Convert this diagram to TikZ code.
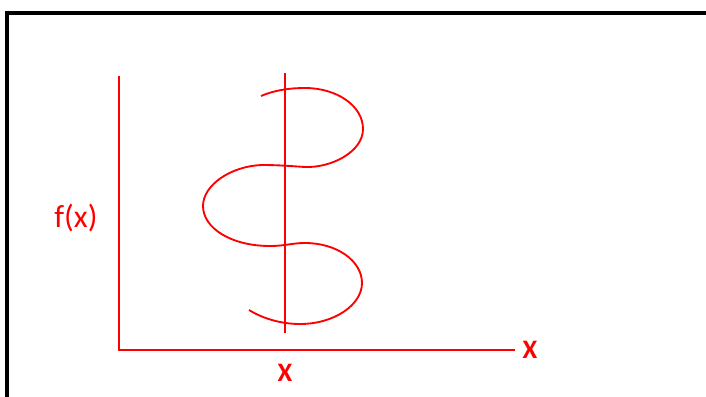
\documentclass[tikz,border=0pt]{standalone}
\usepackage{fontspec}
\setmainfont{Carlito}
\usetikzlibrary{positioning}
\begin{document}
\begin{tikzpicture}[x=0.75pt,y=-0.75pt,
    axis/.style={red, line width=1.5pt},
    curve/.style={red, line width=1.4pt},
    lbl/.style={text=red, inner sep=0pt, font=\fontsize{24}{28}\selectfont},
    xlbl/.style={text=red, inner sep=0pt, font=\fontsize{20}{24}\selectfont\bfseries}]
    \useasboundingbox (0,0) rectangle (706,396);
    \clip (0,0) rectangle (706,396);
    \coordinate (frameBL) at (7,402);
    \coordinate (frameTL) at (7,13);
    \coordinate (frameTR) at (712,13);
    \draw[line width=2.8pt] (frameBL) -- (frameTL) -- (frameTR);

    \coordinate (origin) at (119,350);
    \coordinate (ytop) at (119,76);
    \coordinate (xend) at (515,350);
    \coordinate (vtop) at (285,73);
    \coordinate (vbot) at (285,333);
    \draw[axis] (ytop) -- (origin) -- (xend);
    \draw[axis] (vtop) -- (vbot);

    \node[xlbl, right=5.5pt of xend] (xlabel) {X};
    \node[xlbl] (xpoint) at (285,373) {X};
    \node[lbl] (fx) at (76,218) {f(x)};

    \draw[curve] (261,96) .. controls (275,90) and (290,88) .. (305,88)
        .. controls (337,88) and (363,106) .. (363,129)
        .. controls (363,152) and (331,168) .. (305,167)
        .. controls (290,166) and (278,165) .. (262,165)
        .. controls (231,166) and (203,185) .. (203,206)
        .. controls (203,228) and (231,246) .. (270,246)
        .. controls (285,246) and (292,243) .. (305,243)
        .. controls (337,243) and (362,261) .. (362,283)
        .. controls (362,305) and (334,324) .. (300,324)
        .. controls (280,324) and (262,318) .. (249,310);
\end{tikzpicture}
\end{document}
